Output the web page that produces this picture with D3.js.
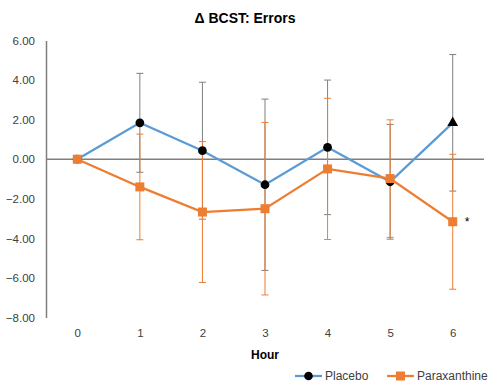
<!DOCTYPE html>
<html>
<head>
<meta charset="utf-8">
<script src="https://cdn.jsdelivr.net/npm/d3@7"></script>
<style>
  body { margin: 0; background: #fff; }
  svg text { font-family: "Liberation Sans", Arial, sans-serif; fill: #404040; }
</style>
</head>
<body>
<div class="chart"></div>
<script>
var hours = ["0", "1", "2", "3", "4", "5", "6"];
var yTicks = [-8, -6, -4, -2, 0, 2, 4, 6];

var placeboMean = [0, 1.84, 0.43, -1.29, 0.60, -1.14, 1.84];
var placeboErr = [0, 2.50, 3.46, 4.33, 3.40, 2.90, 3.45];

var paraMean = [0, -1.40, -2.67, -2.50, -0.49, -0.98, -3.16];
var paraErr = [0, 2.67, 3.56, 4.36, 3.57, 2.97, 3.41];

var width = 490, height = 383;
var blue = "#5b9bd5", orange = "#ed7d31";

var svg = d3.select(".chart").append("svg")
  .attr("width", width)
  .attr("height", height);

var x = d3.scalePoint().domain(hours).range([46, 484]).padding(0.5);
var y = d3.scaleLinear().domain([-8, 6]).range([317.5, 40.5]);

// title
svg.append("text")
  .attr("x", 245).attr("y", 23)
  .attr("text-anchor", "middle")
  .attr("font-size", "14px").attr("font-weight", "bold")
  .style("fill", "#000")
  .text("\u0394 BCST: Errors");

// y axis, labels only
var yAxis = svg.append("g")
  .attr("transform", "translate(46,0)")
  .call(d3.axisLeft(y).tickValues(yTicks).tickSize(0).tickPadding(11)
    .tickFormat(d3.format(".2f")));
yAxis.select(".domain").attr("stroke", "#7f7f7f").attr("stroke-width", 1.5);
yAxis.selectAll("text").attr("font-size", "11.5px").style("fill", "#404040");

// x labels sit at the bottom, the line at zero
var xAxis = svg.append("g")
  .attr("transform", "translate(0,325)")
  .call(d3.axisBottom(x).tickSize(0).tickPadding(4));
xAxis.select(".domain").remove();
xAxis.selectAll("text").attr("font-size", "11.5px").style("fill", "#404040");

svg.append("line")
  .attr("x1", 46).attr("x2", 484)
  .attr("y1", y(0)).attr("y2", y(0))
  .attr("stroke", "#7f7f7f").attr("stroke-width", 1.5);

svg.append("text")
  .attr("x", x("3")).attr("y", 359)
  .attr("text-anchor", "middle")
  .attr("font-size", "12px").attr("font-weight", "bold")
  .style("fill", "#000")
  .text("Hour");

var drawErrors = function(mean, err, color) {
  var data = hours.map(function(h, i) { return { h: h, m: mean[i], e: err[i] }; })
    .filter(function(d) { return d.e > 0; });
  var g = svg.append("g").attr("stroke", color).attr("stroke-width", 1);
  g.selectAll(".stem").data(data).enter().append("line")
    .attr("x1", function(d) { return x(d.h); })
    .attr("x2", function(d) { return x(d.h); })
    .attr("y1", function(d) { return y(d.m + d.e); })
    .attr("y2", function(d) { return y(d.m - d.e); });
  [1, -1].forEach(function(s) {
    g.selectAll(".cap" + s).data(data).enter().append("line")
      .attr("x1", function(d) { return x(d.h) - 3.5; })
      .attr("x2", function(d) { return x(d.h) + 3.5; })
      .attr("y1", function(d) { return y(d.m + s * d.e); })
      .attr("y2", function(d) { return y(d.m + s * d.e); });
  });
};

drawErrors(placeboMean, placeboErr, "#7f7f7f");
drawErrors(paraMean, paraErr, orange);

var line = d3.line()
  .x(function(d, i) { return x(hours[i]); })
  .y(function(d) { return y(d); });

svg.append("path").datum(placeboMean)
  .attr("d", line).attr("fill", "none")
  .attr("stroke", blue).attr("stroke-width", 2.25);

svg.selectAll(".pdot").data(placeboMean).enter().append("path")
  .attr("transform", function(d, i) { return "translate(" + x(hours[i]) + "," + y(d) + ")"; })
  .attr("d", function(d, i) {
    return i === hours.length - 1
      ? d3.symbol(d3.symbolTriangle, 50)()
      : d3.symbol(d3.symbolCircle, 60)();
  })
  .attr("fill", "#000");

svg.append("path").datum(paraMean)
  .attr("d", line).attr("fill", "none")
  .attr("stroke", orange).attr("stroke-width", 2.25);

svg.selectAll(".sq").data(paraMean).enter().append("rect")
  .attr("x", function(d, i) { return x(hours[i]) - 4.5; })
  .attr("y", function(d) { return y(d) - 4.5; })
  .attr("width", 9).attr("height", 9)
  .attr("fill", orange);

// significance mark
svg.append("text")
  .attr("x", 467).attr("y", 226)
  .attr("text-anchor", "middle")
  .attr("font-size", "12px")
  .style("fill", "#000")
  .text("*");

// legend
var legend = svg.append("g").attr("transform", "translate(0,376)");
legend.append("line").attr("x1", 295).attr("x2", 322).attr("stroke", blue).attr("stroke-width", 2.25);
legend.append("circle").attr("cx", 308.5).attr("r", 4.3).attr("fill", "#000");
legend.append("text").attr("x", 325).attr("dy", "0.35em").attr("font-size", "12px").text("Placebo");
legend.append("line").attr("x1", 387).attr("x2", 414).attr("stroke", orange).attr("stroke-width", 2.25);
legend.append("rect").attr("x", 396).attr("y", -4.5).attr("width", 9).attr("height", 9).attr("fill", orange);
legend.append("text").attr("x", 417).attr("dy", "0.35em").attr("font-size", "12px").text("Paraxanthine");
</script>
</body>
</html>
